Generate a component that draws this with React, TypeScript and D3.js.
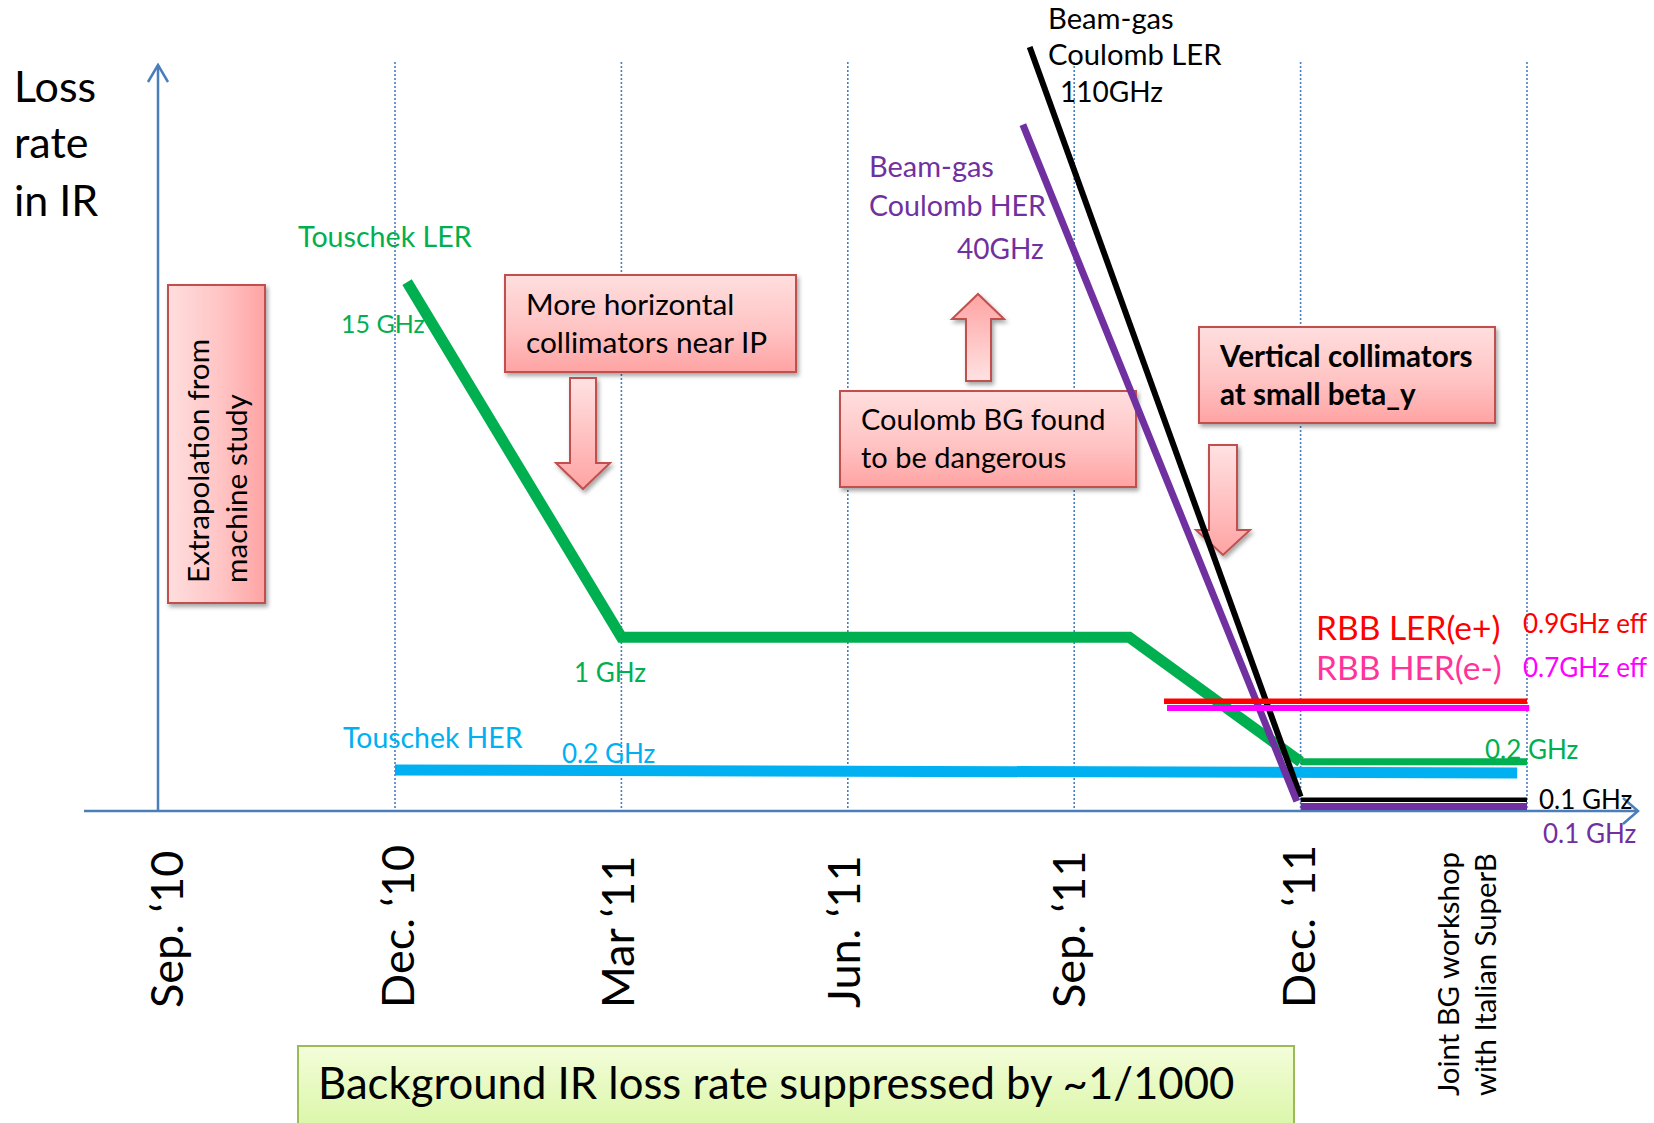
import React from "react";
import * as d3 from "d3";

// ---------- data ----------
// x: months since Sep. 2010 ; y: relative loss-rate level as drawn (0 = axis, 100 = top of axis)
type P = [number, number];

const tickMonths = [0, 3, 6, 9, 12, 15];
const tickLabels = ["Sep. \u201810", "Dec. \u201810", "Mar \u201811", "Jun. \u201811", "Sep. \u201811", "Dec. \u201811"];
const gridMonths = [3, 6, 9, 12, 15, 18];
const workshopLabel = ["Joint BG workshop", "with Italian SuperB"];

const touschekLER: P[] = [[3.16, 70.9], [6, 23.3], [12.73, 23.3], [15, 6.6]];
const touschekLERTail: P[] = [[15, 6.6], [18, 6.6]];
const touschekHER: P[] = [[3, 5.5], [17.87, 5.1]];
const coulombLER: P[] = [[11.41, 102.4], [15, 1.9]];
const coulombLERTail: P[] = [[15, 1.5], [18, 1.5]];
const coulombHER: P[] = [[11.32, 92], [14.95, 1.3]];
const coulombHERTail: P[] = [[15, 0.6], [18, 0.6]];
const rbbLER: P[] = [[13.19, 14.7], [18, 14.7]];
const rbbHER: P[] = [[13.23, 13.8], [18.03, 13.8]];

// ---------- layout / styles ----------
const W = 1654;
const H = 1123;
const X0 = 158;
const Y0 = 811;
const YTOP = 65;
const AXIS = "#4a7ebb";
const FONT = "Lato, 'Open Sans', sans-serif";

const x = d3.scaleLinear().domain([0, 3, 18]).range([X0, 395, 1527]);
const y = d3.scaleLinear().domain([0, 100]).range([Y0, YTOP]);
const line = d3.line<P>().x((d) => x(d[0])).y((d) => y(d[1]));

const series = [
  { d: touschekHER, c: "#00b0f0", w: 11 },
  { d: touschekLER, c: "#00b050", w: 11 },
  { d: touschekLERTail, c: "#00b050", w: 7 },
  { d: coulombLER, c: "#000000", w: 6 },
  { d: coulombLERTail, c: "#000000", w: 4.5 },
  { d: coulombHER, c: "#7030a0", w: 7 },
  { d: coulombHERTail, c: "#7030a0", w: 7 },
  { d: rbbLER, c: "#ff0000", w: 5.5 },
  { d: rbbHER, c: "#ff00ff", w: 6 },
];

const tickNudge = [9, 3, -4, -4, -5, -2];

const labels: { t: string; x: number; y: number; c: string; s: number }[] = [
  { t: "Loss", x: 14, y: 102, c: "#000", s: 43 },
  { t: "rate", x: 14, y: 158, c: "#000", s: 43 },
  { t: "in IR", x: 14, y: 216, c: "#000", s: 43 },
  { t: "Touschek LER", x: 298, y: 247, c: "#00b050", s: 28.6 },
  { t: "15 GHz", x: 341, y: 333, c: "#00b050", s: 25 },
  { t: "1 GHz", x: 574, y: 682, c: "#00b050", s: 26 },
  { t: "Touschek HER", x: 343, y: 748, c: "#00b0f0", s: 28.4 },
  { t: "0.2 GHz", x: 562, y: 763, c: "#00b0f0", s: 26 },
  { t: "Beam-gas", x: 1048, y: 29, c: "#000", s: 29.2 },
  { t: "Coulomb LER", x: 1048, y: 65, c: "#000", s: 29.2 },
  { t: "110GHz", x: 1060, y: 102, c: "#000", s: 28 },
  { t: "Beam-gas", x: 869, y: 177, c: "#7030a0", s: 29 },
  { t: "Coulomb HER", x: 869, y: 216, c: "#7030a0", s: 28.6 },
  { t: "40GHz", x: 957, y: 259, c: "#7030a0", s: 28 },
  { t: "RBB LER(e+)", x: 1316, y: 640, c: "#ff0000", s: 33.5 },
  { t: "RBB HER(e-)", x: 1316, y: 680, c: "#ff3399", s: 33.5 },
  { t: "0.9GHz eff", x: 1523, y: 633, c: "#ff0000", s: 26 },
  { t: "0.7GHz eff", x: 1523, y: 677, c: "#ff00ff", s: 26 },
  { t: "0.2 GHz", x: 1485, y: 759, c: "#00b050", s: 26 },
  { t: "0.1 GHz", x: 1539, y: 809, c: "#000", s: 26 },
  { t: "0.1 GHz", x: 1543, y: 843, c: "#7030a0", s: 26 },
];

const boxes = [
  { x: 505, y: 275, w: 291, h: 97, lines: ["More horizontal", "collimators near IP"], tx: 526, ty: [315, 353], bold: false, s: 29.8 },
  { x: 840, y: 391, w: 296, h: 96, lines: ["Coulomb BG found", "to be dangerous"], tx: 861, ty: [430, 468], bold: false, s: 29 },
  { x: 1199, y: 327, w: 296, h: 96, lines: ["Vertical collimators", "at small beta_y"], tx: 1220, ty: [367, 405], bold: true, s: 29.6 },
];

// block arrows: shaft x-range, tail y, head base y, wings x-range, tip y
const arrows = [
  { sx: [570, 596], tail: 378, base: 463, wx: [556, 610], tip: 489 },
  { sx: [966, 991], tail: 381, base: 319, wx: [952, 1004], tip: 294 },
  { sx: [1209, 1237], tail: 445, base: 530, wx: [1196, 1250], tip: 555 },
];

function arrowPath(a: (typeof arrows)[number]) {
  const cx = (a.wx[0] + a.wx[1]) / 2;
  const p = d3.path();
  p.moveTo(a.sx[0], a.tail);
  p.lineTo(a.sx[1], a.tail);
  p.lineTo(a.sx[1], a.base);
  p.lineTo(a.wx[1], a.base);
  p.lineTo(cx, a.tip);
  p.lineTo(a.wx[0], a.base);
  p.lineTo(a.sx[0], a.base);
  p.closePath();
  return p.toString();
}

export default function App() {
  return (
    <svg
      width={W}
      height={H}
      viewBox={`0 0 ${W} ${H}`}
      style={{ position: "absolute", left: 0, top: 0, background: "#fff" }}
      fontFamily={FONT}
    >
      <defs>
        <linearGradient id="boxV" x1="0" y1="0" x2="0" y2="1">
          <stop offset="0" stopColor="#ffdede" />
          <stop offset="0.55" stopColor="#ffc4c4" />
          <stop offset="1" stopColor="#ffa3a3" />
        </linearGradient>
        <linearGradient id="boxH" x1="0" y1="0" x2="1" y2="0">
          <stop offset="0" stopColor="#ffdede" />
          <stop offset="0.55" stopColor="#ffc4c4" />
          <stop offset="1" stopColor="#ffa3a3" />
        </linearGradient>
        <linearGradient id="arrDown" x1="0" y1="0" x2="0" y2="1">
          <stop offset="0" stopColor="#ffe2e2" />
          <stop offset="1" stopColor="#ffa3a3" />
        </linearGradient>
        <linearGradient id="arrUp" x1="0" y1="1" x2="0" y2="0">
          <stop offset="0" stopColor="#ffe2e2" />
          <stop offset="1" stopColor="#ffa3a3" />
        </linearGradient>
        <linearGradient id="greenBox" x1="0" y1="0" x2="0" y2="1">
          <stop offset="0" stopColor="#f4fdd9" />
          <stop offset="1" stopColor="#daf6a8" />
        </linearGradient>
        <filter id="shadow" x="-10%" y="-10%" width="130%" height="140%">
          <feDropShadow dx="2" dy="3" stdDeviation="2" floodColor="#000" floodOpacity="0.35" />
        </filter>
      </defs>

      {/* dotted grid lines */}
      {gridMonths.map((m) => (
        <line
          key={m}
          x1={x(m)}
          x2={x(m)}
          y1={62}
          y2={Y0}
          stroke={AXIS}
          strokeWidth={1.6}
          strokeDasharray="2 2"
        />
      ))}

      {/* axes */}
      <line x1={X0} x2={X0} y1={Y0} y2={YTOP} stroke={AXIS} strokeWidth={2.5} />
      <polyline points={`${X0 - 10},${YTOP + 17} ${X0},${YTOP} ${X0 + 10},${YTOP + 17}`} fill="none" stroke={AXIS} strokeWidth={2.5} />
      <line x1={84} x2={1638} y1={Y0} y2={Y0} stroke={AXIS} strokeWidth={2.5} />
      <polyline points={`1623,${Y0 - 13} 1638,${Y0} 1623,${Y0 + 13}`} fill="none" stroke={AXIS} strokeWidth={2.5} />

      {/* extrapolation box */}
      <g filter="url(#shadow)">
        <rect x={168} y={285} width={97} height={318} fill="url(#boxH)" stroke="#c0504d" strokeWidth={2} />
      </g>
      <g transform="translate(209,583) rotate(-90)">
        <text fontSize={29.7} fill="#000">Extrapolation from</text>
      </g>
      <g transform="translate(247,583) rotate(-90)">
        <text fontSize={29.7} fill="#000">machine study</text>
      </g>

      {/* annotation boxes */}
      {boxes.map((b, i) => (
        <g key={i}>
          <rect x={b.x} y={b.y} width={b.w} height={b.h} fill="url(#boxV)" stroke="#c0504d" strokeWidth={2} filter="url(#shadow)" />
          {b.lines.map((t, j) => (
            <text key={j} x={b.tx} y={b.ty[j]} fontSize={b.s} fontWeight={b.bold ? 700 : 400} fill="#000">
              {t}
            </text>
          ))}
        </g>
      ))}

      {/* block arrows */}
      {arrows.map((a, i) => (
        <path
          key={i}
          d={arrowPath(a)}
          fill={a.tip > a.tail ? "url(#arrDown)" : "url(#arrUp)"}
          stroke="#c0504d"
          strokeWidth={2}
          strokeLinejoin="miter"
          filter="url(#shadow)"
        />
      ))}

      {/* series */}
      {series.map((s, i) => (
        <path key={i} d={line(s.d) ?? ""} fill="none" stroke={s.c} strokeWidth={s.w} strokeLinejoin="miter" strokeLinecap="butt" />
      ))}

      {/* text labels */}
      {labels.map((l, i) => (
        <text key={i} x={l.x} y={l.y} fontSize={l.s} fill={l.c}>
          {l.t}
        </text>
      ))}

      {/* tick labels */}
      {tickMonths.map((m, i) => (
        <g key={m} transform={`translate(${x(m) + tickNudge[i]},1008) rotate(-90)`}>
          <text fontSize={45} dy="0.36em" fill="#000">
            {tickLabels[i]}
          </text>
        </g>
      ))}
      {workshopLabel.map((t, i) => (
        <g key={t} transform={`translate(${1459 + i * 37},1096) rotate(-90)`}>
          <text fontSize={29.3} fill="#000">
            {t}
          </text>
        </g>
      ))}

      {/* bottom summary box */}
      <rect x={298} y={1046} width={996} height={82} fill="url(#greenBox)" stroke="#9bbb59" strokeWidth={2} />
      <text x={318} y={1099} fontSize={43.7} fill="#000">
        Background IR loss rate suppressed by ~1/1000
      </text>
    </svg>
  );
}
